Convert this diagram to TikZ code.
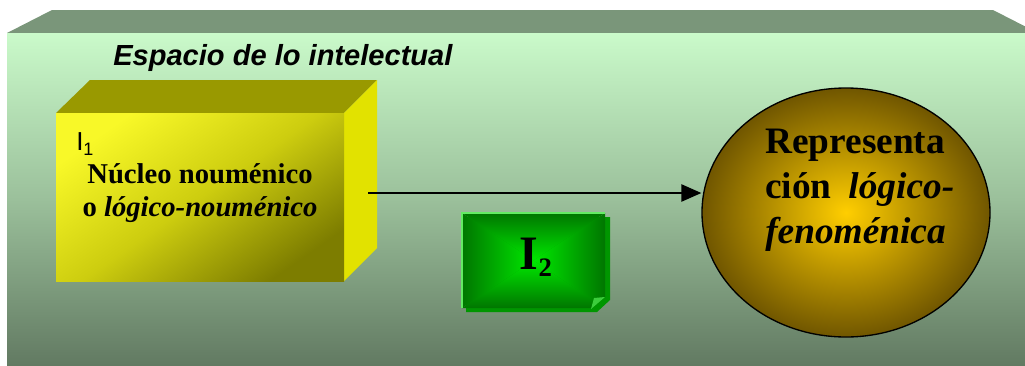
\documentclass[tikz,border=0pt]{standalone}
\usepackage{fontspec}
\setmainfont{Liberation Serif}
\setsansfont{Liberation Sans}
\usetikzlibrary{arrows.meta,shapes.geometric}
\definecolor{slabtop}{RGB}{122,150,122}
\definecolor{slabhi}{RGB}{202,250,202}
\definecolor{slabmid}{RGB}{155,192,155}
\definecolor{slablo}{RGB}{98,122,98}
\definecolor{boxtop}{RGB}{153,153,0}
\definecolor{boxside}{RGB}{226,226,0}
\definecolor{boxhi}{RGB}{248,248,40}
\definecolor{boxmid}{RGB}{205,205,15}
\definecolor{boxlo}{RGB}{125,125,0}
\definecolor{notedark}{RGB}{0,118,0}
\definecolor{notelight}{RGB}{0,232,0}
\definecolor{noteedge}{RGB}{100,235,100}
\definecolor{noteshadow}{RGB}{0,150,0}
\definecolor{notefold}{RGB}{60,205,60}
\definecolor{goldin}{RGB}{255,206,0}
\definecolor{goldout}{RGB}{112,86,0}
\tikzset{
  frontface/.style={rectangle, inner sep=0pt, minimum width=216pt, minimum height=126pt,
    top color=boxhi, bottom color=boxlo, middle color=boxmid, shading angle=35},
  repellipse/.style={ellipse, draw=black, line width=1pt, inner sep=0pt,
    minimum width=216pt, minimum height=186.75pt, inner color=goldin, outer color=goldout},
  boxtext/.style={font=\fontsize{21.5}{24.75}\selectfont\bfseries, align=center, inner sep=0pt},
  reptext/.style={font=\fontsize{28}{33.75}\selectfont\bfseries, align=left, inner sep=0pt},
  arrowline/.style={line width=1.1pt, -{Triangle[length=15pt,width=13pt]}},
}
\begin{document}
\begin{tikzpicture}[x=0.75pt,y=-0.75pt]
\useasboundingbox (0,0) rectangle (1025,365);
\clip (0,0) rectangle (1025,365);
% slab
\fill[slabtop] (52,10) -- (993,10) -- (1038,33) -- (7,33) -- cycle;
\shade[top color=slabhi, bottom color=slablo, middle color=slabmid] (7,33) rectangle (1040,365);
\node[font=\fontsize{21.8}{24}\selectfont\sffamily\bfseries\itshape, anchor=west, inner sep=0pt] (espacio) at (113,58) {Espacio de lo intelectual};
% yellow box
\fill[boxtop] (56,113) -- (90,80) -- (377,80) -- (344,113) -- cycle;
\fill[boxside] (344,113) -- (377,80) -- (377,248) -- (344,281) -- cycle;
\node[frontface] (nucleo) at (200,197) {};
\node[font=\fontsize{19.5}{20}\selectfont\sffamily, anchor=base west, inner sep=0pt] (ione) at (76,150) {I\raisebox{-3.75pt}{\fontsize{13.5}{14}\selectfont 1}};
\node[boxtext] (nucleotxt) at (200,193.5) {Núcleo nouménico\\o \textit{lógico-nouménico}};
% green note
\fill[noteshadow] (466,217) -- (610,217) -- (610,300) -- (597,312) -- (466,312) -- cycle;
\begin{scope}
\clip (462,213) -- (605,213) -- (605,297) -- (592,308) -- (462,308) -- cycle;
\shade[top color=notedark, bottom color=notelight] (462,213) -- (605,213) -- (533.5,260.5) -- cycle;
\shade[top color=notelight, bottom color=notedark] (462,308) -- (605,308) -- (533.5,260.5) -- cycle;
\shade[left color=notedark, right color=notelight] (462,213) -- (462,308) -- (533.5,260.5) -- cycle;
\shade[left color=notelight, right color=notedark] (605,213) -- (605,308) -- (533.5,260.5) -- cycle;
\end{scope}
\draw[noteedge, line width=1.5pt] (462,308) -- (462,213) -- (605,213);
\fill[notefold] (591,309) -- (605,297) -- (594,298) -- cycle;
\node[font=\fontsize{36}{40}\selectfont\bfseries, inner sep=0pt] (itwo) at (536,257) {I\raisebox{-5pt}{\fontsize{20}{22}\selectfont 2}};
% ellipse
\node[repellipse] (rep) at (846,212.5) {};
\node[reptext, anchor=west] (reptxt) at (765,190) {Representa\\ción\hspace{0.45em}\textit{lógico-}\\\textit{fenoménica}};
% arrow
\coordinate (arrstart) at (368,193);
\draw[arrowline] (arrstart) -- (arrstart -| rep.west);
\end{tikzpicture}
\end{document}
